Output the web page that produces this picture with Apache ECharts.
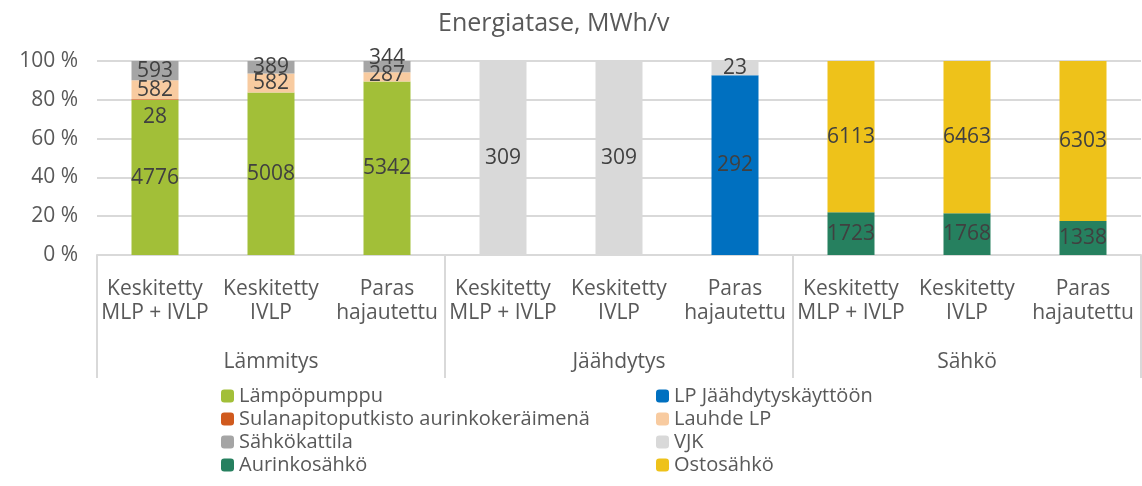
<!DOCTYPE html>
<html>
<head>
<meta charset="utf-8">
<script src="https://cdn.jsdelivr.net/npm/echarts@6/dist/echarts.min.js"></script>
<style>
  html, body { margin: 0; padding: 0; background: #fff; }
  #chart { width: 1142px; height: 486px; }
</style>
</head>
<body>
<div id="chart"></div>
<script>
// kategoriat
var categories = [
    "Keskitetty\nMLP + IVLP", "Keskitetty\nIVLP", "Paras\nhajautettu",
    "Keskitetty\nMLP + IVLP", "Keskitetty\nIVLP", "Paras\nhajautettu",
    "Keskitetty\nMLP + IVLP", "Keskitetty\nIVLP", "Paras\nhajautettu"
];
var groups = ["Lämmitys", "Jäähdytys", "Sähkö"];
var yTicks = [0, 20, 40, 60, 80, 100];

// arvot MWh/v
var lampopumppu  = [4776, 5008, 5342, 0, 0, 0, 0, 0, 0];
var sulanapito   = [28, 0, 0, 0, 0, 0, 0, 0, 0];
var lauhdeLP     = [582, 582, 287, 0, 0, 0, 0, 0, 0];
var sahkokattila = [593, 389, 344, 0, 0, 0, 0, 0, 0];
var lpJaahdytys  = [0, 0, 0, 0, 0, 292, 0, 0, 0];
var vjk          = [0, 0, 0, 309, 309, 23, 0, 0, 0];
var aurinko      = [0, 0, 0, 0, 0, 0, 1723, 1768, 1338];
var ostosahko    = [0, 0, 0, 0, 0, 0, 6113, 6463, 6303];

var seriesDefs = [
    {name: "Lämpöpumppu", data: lampopumppu, color: "#A2BF38"},
    {name: "Sulanapitoputkisto aurinkokeräimenä", data: sulanapito, color: "#D05A1E", offset: [0, 17]},
    {name: "Lauhde LP", data: lauhdeLP, color: "#F8CBA0"},
    {name: "Sähkökattila", data: sahkokattila, color: "#A5A5A5"},
    {name: "LP Jäähdytyskäyttöön", data: lpJaahdytys, color: "#0070C0"},
    {name: "VJK", data: vjk, color: "#D9D9D9"},
    {name: "Aurinkosähkö", data: aurinko, color: "#26805F"},
    {name: "Ostosähkö", data: ostosahko, color: "#EEC21A"}
];

// Excelin siirtämät pienet nimiöt (sarja, indeksi) -> siirto
var labelNudge = {"Lauhde LP:2": [0, -2], "Sähkökattila:2": [0, -9]};

// 100 % pinotut osuudet
var totals = categories.map(function(c, i){
    var s = 0;
    seriesDefs.forEach(function(d){ s += d.data[i]; });
    return s;
});

var FONT = "'Open Sans', sans-serif";
var TXT = "#595959";

var series = seriesDefs.map(function(d){
    return {
        name: d.name,
        type: "bar",
        stack: "all",
        barWidth: 47,
        itemStyle: {color: d.color},
        label: {
            show: true,
            position: "inside",
            offset: d.offset || [0, 0],
            color: "#404040",
            fontFamily: FONT,
            fontSize: 21,
            formatter: function(p){ return d.data[p.dataIndex] ? String(d.data[p.dataIndex]) : ""; }
        },
        data: d.data.map(function(v, i){
            if (!v) return null;
            var item = {value: v / totals[i] * 100};
            var n = labelNudge[d.name + ":" + i];
            if (n) item.label = {offset: n};
            return item;
        })
    };
});

var chart = echarts.init(document.getElementById("chart"));
chart.setOption({
    animation: false,
    title: {
        text: "Energiatase, MWh/v",
        left: 433, top: 6,
        textStyle: {fontFamily: FONT, fontSize: 25, fontWeight: "normal", color: TXT}
    },
    grid: {left: 97, right: 1, top: 61, bottom: 231},
    legend: [
        {
            orient: "vertical", left: 216, top: 381, itemWidth: 13, itemHeight: 13, itemGap: 3,
            textStyle: {fontFamily: FONT, fontSize: 20, color: TXT, lineHeight: 20},
            data: ["Lämpöpumppu", "Sulanapitoputkisto aurinkokeräimenä", "Sähkökattila", "Aurinkosähkö"]
        },
        {
            orient: "vertical", left: 651, top: 381, itemWidth: 13, itemHeight: 13, itemGap: 3,
            textStyle: {fontFamily: FONT, fontSize: 20, color: TXT, lineHeight: 20},
            data: ["LP Jäähdytyskäyttöön", "Lauhde LP", "VJK", "Ostosähkö"]
        }
    ],
    xAxis: [
        {
            type: "category",
            data: categories,
            axisLine: {lineStyle: {color: "#D9D9D9", width: 2}},
            axisTick: {show: false},
            axisLabel: {fontFamily: FONT, fontSize: 21, color: TXT, lineHeight: 24, margin: 22, interval: 0}
        },
        {
            type: "category",
            data: groups,
            position: "bottom",
            offset: 123,
            axisLine: {show: false},
            axisTick: {show: true, inside: true, length: 123, lineStyle: {color: "#D9D9D9", width: 2}},
            axisLabel: {inside: true, margin: 5, fontFamily: FONT, fontSize: 21, color: TXT}
        }
    ],
    yAxis: {
        type: "value",
        min: yTicks[0], max: yTicks[yTicks.length - 1], interval: 20,
        axisLine: {show: false},
        axisTick: {show: false},
        splitLine: {lineStyle: {color: "#D9D9D9", width: 2}},
        axisLabel: {formatter: "{value} %", fontFamily: FONT, fontSize: 21, color: TXT, margin: 19}
    },
    series: series
});
</script>
</body>
</html>
